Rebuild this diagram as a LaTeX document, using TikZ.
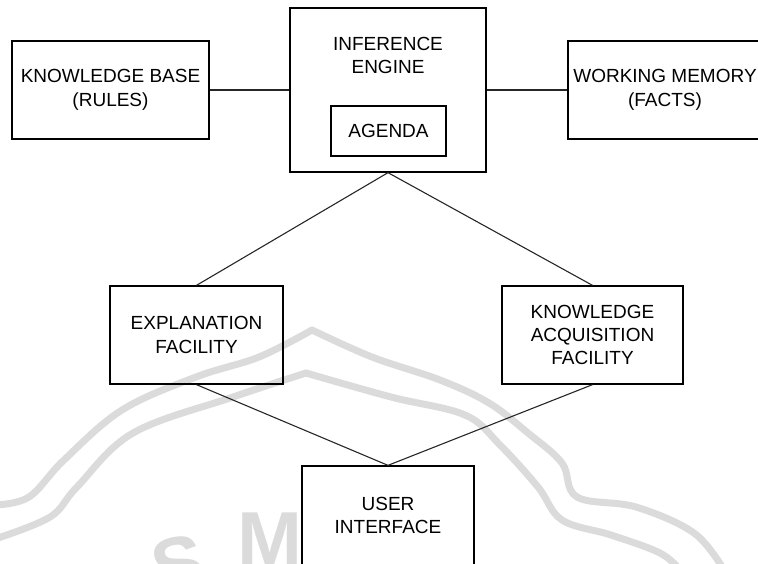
\documentclass[tikz,border=0pt]{standalone}
\usepackage{fontspec}
\setmainfont{Liberation Sans}
\begin{document}
\begin{tikzpicture}[x=1pt,y=-1pt,
  box/.style={draw=black,line width=1.3pt,rectangle,inner sep=0pt,align=center,
    font=\fontsize{19}{24}\selectfont,text=black},
  lbl/.style={inner sep=0pt,align=center,font=\fontsize{19}{23}\selectfont,text=black},
  link/.style={draw=black!85,line width=1.1pt},
  mark band/.style={draw=black!14,line width=7pt,line cap=round,line join=round},
  mark glyph/.style={text=black!14,inner sep=0pt,font=\fontsize{78}{78}\selectfont\bfseries}]
\useasboundingbox (0,0) rectangle (758,563);
\clip (0,0) rectangle (758,563);

% faint seal in the background
\draw[mark band] plot[smooth,tension=0.6] coordinates
  {(-5,505) (29,497) (64,460) (122,410) (196,377) (259,357) (312,330)};
\draw[mark band] plot[smooth,tension=0.6] coordinates
  {(312,330) (372,357) (440,380) (489,403) (528,433) (562,463) (577,497) (636,507) (694,533) (724,570)};
\draw[mark band] plot[smooth,tension=0.6] coordinates
  {(-5,539) (50,517) (77,487) (133,433) (233,397) (306,373)};
\draw[mark band] plot[smooth,tension=0.6] coordinates
  {(306,373) (391,397) (465,415) (500,445) (538,487) (562,520) (611,535) (660,553) (680,570)};
\node[mark glyph,rotate=12] (sealS) at (178,565) {S};
\node[mark glyph] (sealM) at (270,540) {M};

% blocks
\node[box,minimum width=197pt,minimum height=98pt] (kb) at (110.5,90)
  {KNOWLEDGE BASE\\(RULES)};
\node[box,minimum width=196pt,minimum height=164pt] (ie) at (388,90) {};
\node[lbl] (ietext) at (388,55) {INFERENCE\\ENGINE};
\node[box,minimum width=115pt,minimum height=50pt] (agenda) at (388.5,131) {AGENDA};
\node[box,minimum width=194pt,minimum height=98pt] (wm) at (665,90)
  {WORKING MEMORY\\(FACTS)};
\node[box,minimum width=173pt,minimum height=98pt] (ef) at (196.5,335)
  {EXPLANATION\\FACILITY};
\node[box,minimum width=181pt,minimum height=98pt,font=\fontsize{19}{23}\selectfont] (kaf) at (592.5,335)
  {KNOWLEDGE\\ACQUISITION\\FACILITY};
\node[box,minimum width=172pt,minimum height=140pt] (ui) at (388,536) {};
\node[lbl] (uitext) at (388,515) {USER\\INTERFACE};

% connectors
\draw[link] (kb.east) -- (ie.west);
\draw[link] (ie.east) -- (wm.west);
\draw[link] (ie.south) -- (ef.north);
\draw[link] (ie.south) -- (kaf.north);
\draw[link] (ef.south) -- (ui.north);
\draw[link] (kaf.south) -- (ui.north);
\end{tikzpicture}
\end{document}
